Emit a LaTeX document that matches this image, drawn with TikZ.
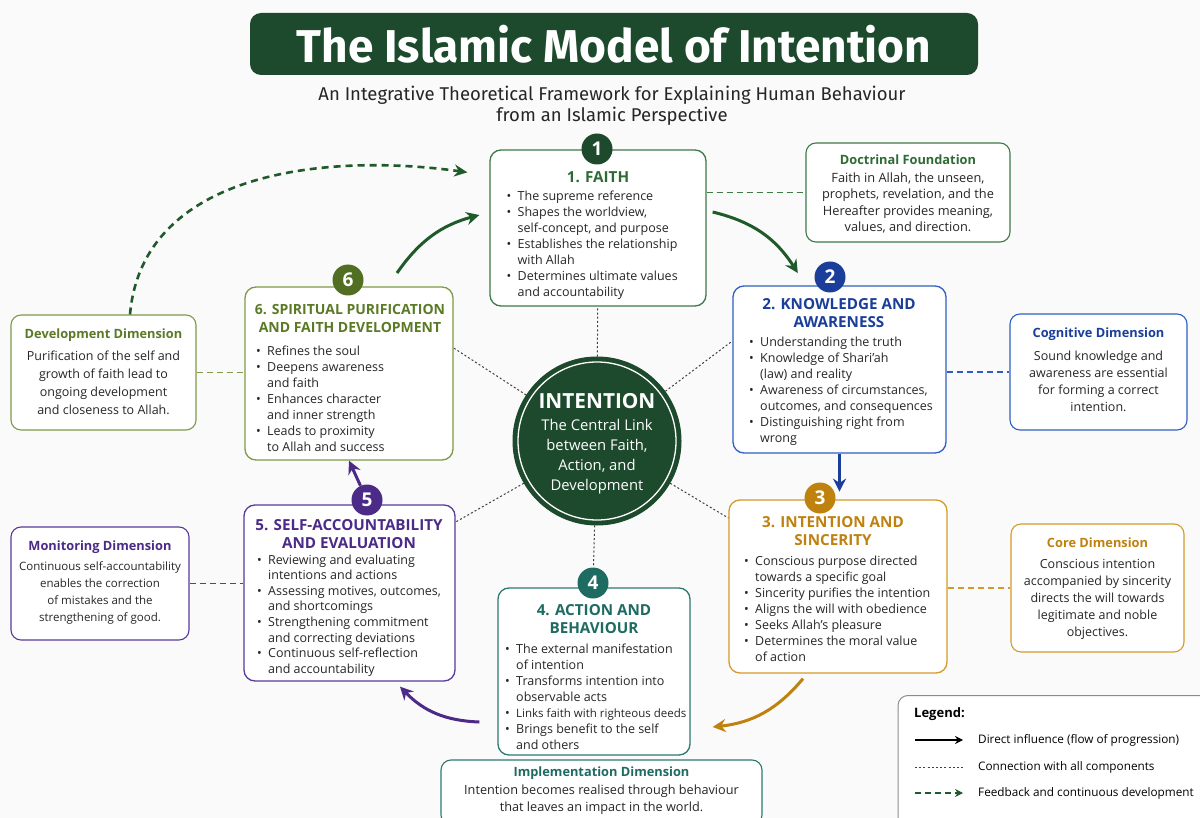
\documentclass[tikz,border=0pt]{standalone}
\usepackage{fontspec}
\setmainfont{Open Sans}
\newfontfamily\headfont{Fira Sans}
\usetikzlibrary{arrows.meta,positioning}

\definecolor{darkgrn}{HTML}{1D4A2C}
\definecolor{flowgrn}{HTML}{1F5A2A}
\definecolor{faithc}{HTML}{2E6B34}
\definecolor{faithb}{HTML}{3C7A46}
\definecolor{knowc}{HTML}{1A3E9A}
\definecolor{knowb}{HTML}{2F5FC0}
\definecolor{sincc}{HTML}{C0820E}
\definecolor{sincb}{HTML}{D69A2C}
\definecolor{actc}{HTML}{1E6B62}
\definecolor{actb}{HTML}{2A7A70}
\definecolor{accc}{HTML}{4B2A88}
\definecolor{accb}{HTML}{5A3A9A}
\definecolor{purc}{HTML}{5B7A26}
\definecolor{purb}{HTML}{7E9A45}

\newcommand\bitem{\makebox[11pt][l]{\textbullet}}
\newcommand\bcont{\hspace*{11pt}}

\begin{document}
\begin{tikzpicture}[x=1pt,y=1pt,
  stage/.style={draw=#1,line width=1.3pt,rounded corners=11pt,fill=white,inner sep=0pt},
  dimbox/.style={draw=#1,line width=1.1pt,rounded corners=10pt,fill=white,inner sep=0pt},
  badge/.style={circle,fill=#1,minimum size=31pt,inner sep=0pt,text=white,font=\bfseries\fontsize{19}{19}\selectfont},
  stitle/.style={text=#1,align=center,inner sep=0pt,font=\bfseries\fontsize{15.2}{18}\selectfont},
  blist/.style={anchor=west,align=left,inner sep=0pt,text=black!85,font=\fontsize{12.5}{16}\selectfont},
  dtitle/.style={text=#1,inner sep=0pt,font=\bfseries\fontsize{12.8}{16}\selectfont},
  dtext/.style={align=center,inner sep=0pt,text=black!85,font=\fontsize{12.5}{17}\selectfont},
  flow/.style={draw=#1,line width=3pt,-{Stealth[length=13pt,width=13pt]}},
  link/.style={draw=black!75,line width=1pt,dash pattern=on 2pt off 2.2pt},
  tie/.style={draw=#1,line width=1.5pt,dash pattern=on 6pt off 4pt}]

\fill[black!2] (0,0) rectangle (1200,-818);
\useasboundingbox (0,0) rectangle (1200,-818);

% heading
\node[fill=darkgrn,rounded corners=11pt,minimum width=728pt,minimum height=62pt,text=white,
  font=\headfont\bfseries\fontsize{46}{46}\selectfont] (title) at (614,-44) {The Islamic Model of Intention};
\node[align=center,text=black!85,font=\headfont\fontsize{18.5}{20.5}\selectfont] (subtitle) at (612,-106)
  {An Integrative Theoretical Framework for Explaining Human Behaviour\\from an Islamic Perspective};

% the six stages
\node[stage=faithb,minimum width=216pt,minimum height=156pt] (faith) at (598,-228) {};
\node[stage=knowb,minimum width=213pt,minimum height=167pt] (know) at (839.5,-369.5) {};
\node[stage=sincb,minimum width=218pt,minimum height=173pt] (sinc) at (838,-586.5) {};
\node[stage=actb,minimum width=192pt,minimum height=167pt] (action) at (594,-671.5) {};
\node[stage=accb,minimum width=211pt,minimum height=176pt] (accnt) at (349.5,-593) {};
\node[stage=purb,minimum width=208pt,minimum height=173pt] (purif) at (349,-373.5) {};

\node[badge=darkgrn] (b1) at (597,-149) {1};
\node[badge=knowc] (b2) at (830,-277) {2};
\node[badge=sincc] (b3) at (820,-498) {3};
\node[badge=actc] (b4) at (593,-583) {4};
\node[badge=accc] (b5) at (367,-500) {5};
\node[badge=purc!90!black] (b6) at (348,-280) {6};

\node[stitle=faithc] (faithT) at (598,-177) {1. FAITH};
\node[blist] (faithL) at (506.5,-245) {\bitem The supreme reference\\
  \bitem Shapes the worldview,\\ \bcont self-concept, and purpose\\
  \bitem Establishes the relationship\\ \bcont with Allah\\
  \bitem Determines ultimate values\\ \bcont and accountability};

\node[stitle=knowc] (knowT) at (839,-313) {2. KNOWLEDGE AND\\AWARENESS};
\node[blist] (knowL) at (749,-391) {\bitem Understanding the truth\\
  \bitem Knowledge of Shari’ah\\ \bcont (law) and reality\\
  \bitem Awareness of circumstances,\\ \bcont outcomes, and consequences\\
  \bitem Distinguishing right from\\ \bcont wrong};

\node[stitle=sincc] (sincT) at (833,-531) {3. INTENTION AND\\SINCERITY};
\node[blist] (sincL) at (744,-608.5) {\bitem Conscious purpose directed\\ \bcont towards a specific goal\\
  \bitem Sincerity purifies the intention\\
  \bitem Aligns the will with obedience\\
  \bitem Seeks Allah’s pleasure\\
  \bitem Determines the moral value\\ \bcont of action};

\node[stitle=actc] (actionT) at (594,-619) {4. ACTION AND\\BEHAVIOUR};
\node[blist] (actionL) at (505,-697) {\bitem The external manifestation\\ \bcont of intention\\
  \bitem Transforms intention into\\ \bcont observable acts\\
  \bitem {\fontsize{11.5}{16}\selectfont Links faith with righteous deeds}\\
  \bitem Brings benefit to the self\\ \bcont and others};

\node[stitle=accc] (accntT) at (349,-534) {5. SELF-ACCOUNTABILITY\\AND EVALUATION};
\node[blist,font=\fontsize{12.5}{15.6}\selectfont] (accntL) at (257,-615.5) {\bitem Reviewing and evaluating\\ \bcont intentions and actions\\
  \bitem Assessing motives, outcomes,\\ \bcont and shortcomings\\
  \bitem Strengthening commitment\\ \bcont and correcting deviations\\
  \bitem Continuous self-reflection\\ \bcont and accountability};

\node[stitle=purc,font=\bfseries\fontsize{14}{17.5}\selectfont] (purifT) at (350,-318.5) {6. SPIRITUAL PURIFICATION\\AND FAITH DEVELOPMENT};
\node[blist] (purifL) at (256,-399) {\bitem Refines the soul\\
  \bitem Deepens awareness\\ \bcont and faith\\
  \bitem Enhances character\\ \bcont and inner strength\\
  \bitem Leads to proximity\\ \bcont to Allah and success};

% centre
\node[circle,fill=darkgrn,draw=darkgrn,line width=1pt,minimum size=168pt] (intent) at (597,-441) {};
\draw[white,line width=1.3pt] (intent.center) circle (79pt);
\node[text=white,font=\bfseries\fontsize{20.8}{21}\selectfont] (intentT) at (597,-401) {INTENTION};
\node[text=white,align=center,font=\fontsize{14.8}{20}\selectfont] (intentL) at (597,-457)
  {The Central Link\\between Faith,\\Action, and\\Development};

\draw[link] (intent) -- (faith);
\draw[link] (intent) -- (b4);
\draw[link] (intent.36) -- ([yshift=28.5pt]know.west);
\draw[link] (intent.-30) -- ([yshift=68.5pt]sinc.west);
\draw[link] (intent.147) -- ([yshift=25.5pt]purif.east);
\draw[link] (intent.210) -- ([yshift=71pt]accnt.east);

% dimensions
\node[dimbox=faithb,minimum width=204pt,minimum height=99pt] (doctrine) at (908,-192.5) {};
\node[dtitle=faithc] (doctrineT) at (908,-160) {Doctrinal Foundation};
\node[dtext,font=\fontsize{12.8}{16.3}\selectfont] (doctrineL) at (908,-203) {Faith in Allah, the unseen,\\prophets, revelation, and the\\Hereafter provides meaning,\\values, and direction.};

\node[dimbox=knowb,minimum width=177pt,minimum height=116pt] (cognit) at (1098.5,-372) {};
\node[dtitle=knowc] (cognitT) at (1098.5,-334) {Cognitive Dimension};
\node[dtext] (cognitL) at (1098.5,-381) {Sound knowledge and\\awareness are essential\\for forming a correct\\intention.};

\node[dimbox=sincb,minimum width=173pt,minimum height=128pt] (core) at (1097.5,-588) {};
\node[dtitle=sincc] (coreT) at (1097.5,-543) {Core Dimension};
\node[dtext] (coreL) at (1097.5,-599.5) {Conscious intention\\accompanied by sincerity\\directs the will towards\\legitimate and noble\\objectives.};

\node[dimbox=actb,minimum width=321pt,minimum height=65pt] (implem) at (601.5,-792.5) {};
\node[dtitle=actc] (implemT) at (601.5,-773) {Implementation Dimension};
\node[dtext,font=\fontsize{12.7}{17}\selectfont] (implemL) at (601.5,-799.5) {Intention becomes realised through behaviour\\that leaves an impact in the world.};

\node[dimbox=accb,minimum width=178pt,minimum height=113pt] (monit) at (100,-583.5) {};
\node[dtitle=accc] (monitT) at (100,-547) {Monitoring Dimension};
\node[dtext,font=\fontsize{11.5}{17}\selectfont] (monitL) at (100,-593) {Continuous self-accountability\\enables the correction\\of mistakes and the\\strengthening of good.};

\node[dimbox=purb,minimum width=185pt,minimum height=115pt] (develop) at (103.5,-372.5) {};
\node[dtitle=purc] (developT) at (103.5,-335) {Development Dimension};
\node[dtext,font=\fontsize{12.5}{18}\selectfont] (developL) at (103.5,-383) {Purification of the self and\\growth of faith lead to\\ongoing development\\and closeness to Allah.};

\draw[tie=faithb] (doctrine.west -| faith.east) -- (doctrine.west);
\draw[tie=knowb] (cognit.west -| know.east) -- (cognit.west);
\draw[tie=sincb] (core.west -| sinc.east) -- (core.west);
\draw[tie=purb] (develop.east) -- (develop.east -| purif.west);
\draw[tie=accb] (monit.east) -- (monit.east -| accnt.west);

% progression
\draw[flow=flowgrn] ([xshift=6pt,yshift=16pt]faith.east) to[bend left=22] ([xshift=-16.5pt,yshift=4pt]b2.west);
\draw[flow=knowc] (know.south) -- ++(0,-38);
\draw[flow=sincc] ([xshift=-35pt,yshift=-5pt]sinc.south) to[bend left=22] ([xshift=22pt,yshift=-55.5pt]action.east);
\draw[flow=accc] ([xshift=-18pt,yshift=-50.5pt]action.west) to[bend left=22] ([xshift=50.5pt,yshift=-5pt]accnt.south);
\draw[flow=accc] (b5) -- (purif.south);
\draw[flow=flowgrn] ([xshift=49pt,yshift=7pt]b6.center) to[bend left=20] ([xshift=-10pt,yshift=13pt]faith.west);

% feedback
\draw[tie=flowgrn,line width=2.6pt,dash pattern=on 7pt off 5pt,-{Stealth[length=13pt,width=12pt]}]
  ([xshift=26.5pt]develop.north) to[out=85,in=172] ([xshift=-22pt,yshift=-23pt]faith.north west);

% legend
\node[draw=black!45,line width=1pt,rounded corners=10pt,fill=white,minimum width=320pt,minimum height=135pt] (legend) at (1058,-763) {};
\node[anchor=west,inner sep=0pt,font=\bfseries\fontsize{13}{13}\selectfont] (legendT) at (914,-714) {Legend:};
\node[anchor=west,inner sep=0pt,font=\fontsize{11.75}{12}\selectfont] (leg1) at (978,-740) {Direct influence (flow of progression)};
\node[anchor=west,inner sep=0pt,font=\fontsize{11.75}{12}\selectfont] (leg2) at (978,-767) {Connection with all components};
\node[anchor=west,inner sep=0pt,font=\fontsize{11.75}{12}\selectfont] (leg3) at (978,-793) {Feedback and continuous development};
\draw[line width=1.6pt,-{Stealth[length=8pt,width=8pt]}] ([xshift=-63pt]leg1.west) -- ([xshift=-15pt]leg1.west);
\draw[link] ([xshift=-63pt]leg2.west) -- ([xshift=-15pt]leg2.west);
\draw[tie=flowgrn,line width=1.8pt,-{Stealth[length=8pt,width=8pt]}] ([xshift=-63pt]leg3.west) -- ([xshift=-15pt]leg3.west);
\end{tikzpicture}
\end{document}
